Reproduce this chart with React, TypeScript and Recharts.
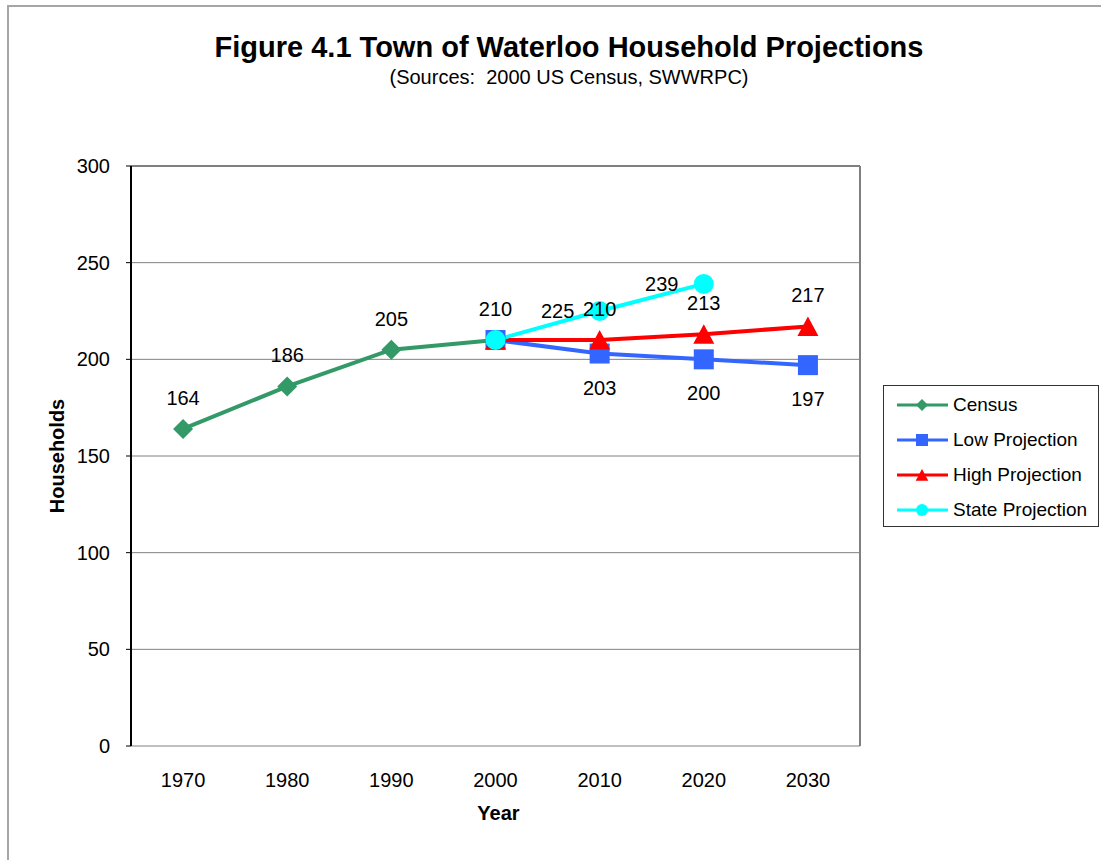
import React from "react";
import {
  LineChart,
  Line,
  XAxis,
  YAxis,
  CartesianGrid,
  ReferenceLine,
  LabelList,
} from "recharts";

const years = [1970, 1980, 1990, 2000, 2010, 2020, 2030];
const census = [164, 186, 205, 210, null, null, null];
const lowProjection = [null, null, null, 210, 203, 200, 197];
const highProjection = [null, null, null, 210, 210, 213, 217];
const stateProjection = [null, null, null, 210, 225, 239, null];

// boundaries between the year categories, where the tick marks sit
const yearBounds = [1965, 1975, 1985, 1995, 2005, 2015, 2025, 2035];
const householdTicks = [0, 50, 100, 150, 200, 250, 300];

const data = years.map((year, i) => ({
  year,
  census: census[i],
  low: lowProjection[i],
  high: highProjection[i],
  state: stateProjection[i],
}));

const FONT = "'Liberation Sans', Arial, sans-serif";

type Shape = "diamond" | "square" | "triangle" | "circle";

const series: {
  key: string;
  name: string;
  color: string;
  shape: Shape;
  label: "top" | "bottom" | "left";
}[] = [
  { key: "census", name: "Census", color: "#339966", shape: "diamond", label: "top" },
  { key: "low", name: "Low Projection", color: "#3366FF", shape: "square", label: "bottom" },
  { key: "high", name: "High Projection", color: "#FF0000", shape: "triangle", label: "top" },
  { key: "state", name: "State Projection", color: "#00FFFF", shape: "circle", label: "left" },
];

function Marker({ cx, cy, shape, color, r }: { cx: number; cy: number; shape: Shape; color: string; r: number }) {
  if (cx == null || cy == null) return null;
  if (shape === "diamond")
    return <polygon points={`${cx},${cy - r} ${cx + r},${cy} ${cx},${cy + r} ${cx - r},${cy}`} fill={color} />;
  if (shape === "square") return <rect x={cx - r} y={cy - r} width={r * 2} height={r * 2} fill={color} />;
  if (shape === "triangle")
    return <polygon points={`${cx},${cy - r} ${cx + r * 1.05},${cy + r * 0.95} ${cx - r * 1.05},${cy + r * 0.95}`} fill={color} />;
  return <circle cx={cx} cy={cy} r={r} fill={color} />;
}

function makeLabel(pos: "top" | "bottom" | "left", isProjection: boolean) {
  return (props: any) => {
    const { x, y, value, index } = props;
    if (value == null) return null;
    // the 2000 value is only labelled once, on the census line
    if (isProjection && years[index] === 2000) return null;
    let tx = x;
    let ty = y;
    if (pos === "top") ty = y - 31;
    if (pos === "bottom") ty = y + 34;
    if (pos === "left") tx = x - 42;
    return (
      <text x={tx} y={ty} textAnchor="middle" dominantBaseline="central" fontSize={20} fontFamily={FONT} fill="#000">
        {value}
      </text>
    );
  };
}

function Legend() {
  return (
    <div
      style={{
        position: "absolute",
        left: 883,
        top: 385,
        width: 214,
        height: 140,
        border: "1px solid #333",
        background: "#fff",
        fontFamily: FONT,
        fontSize: 19,
      }}
    >
      {series.map((s, i) => (
        <div
          key={s.key}
          style={{ position: "absolute", left: 0, top: 4 + i * 35, height: 30, display: "flex", alignItems: "center", whiteSpace: "nowrap" }}
        >
          <svg width={54} height={30} style={{ marginLeft: 13 }}>
            <line x1={0} y1={15} x2={51} y2={15} stroke={s.color} strokeWidth={3} />
            <Marker cx={25} cy={15} shape={s.shape} color={s.color} r={6} />
          </svg>
          <span style={{ marginLeft: 2, color: "#000" }}>{s.name}</span>
        </div>
      ))}
    </div>
  );
}

export default function App() {
  return (
    <div style={{ position: "absolute", left: 0, top: 0, width: 1101, height: 860, background: "#fff", fontFamily: FONT }}>
      <div style={{ position: "absolute", left: 7, top: 5, width: 1094, height: 855, borderTop: "2px solid #a6a6a6", borderLeft: "2px solid #a6a6a6" }} />
      <div style={{ position: "absolute", left: 169, width: 800, top: 31, textAlign: "center", fontSize: 29, fontWeight: "bold", lineHeight: "32px" }}>
        Figure 4.1 Town of Waterloo Household Projections
      </div>
      <div style={{ position: "absolute", left: 169, width: 800, top: 65, textAlign: "center", fontSize: 20, lineHeight: "24px", whiteSpace: "pre" }}>
        {"(Sources:  2000 US Census, SWWRPC)"}
      </div>
      <div style={{ position: "absolute", left: 0, top: 0 }}>
        <LineChart width={1101} height={860} data={data} margin={{ top: 166, right: 241, bottom: 0, left: 0 }}>
          <CartesianGrid horizontal vertical={false} stroke="#808080" />
          <XAxis
            xAxisId="bounds"
            dataKey="year"
            type="number"
            domain={[1965, 2035]}
            ticks={yearBounds}
            tick={false}
            height={0}
            axisLine={{ stroke: "#000", strokeWidth: 2 }}
            tickLine={{ stroke: "#000" }}
            tickSize={6}
          />
          <XAxis
            xAxisId="years"
            dataKey="year"
            type="number"
            domain={[1965, 2035]}
            ticks={years}
            height={114}
            axisLine={false}
            tickLine={false}
            tickSize={6}
            tickMargin={21}
            tick={{ fill: "#000", fontSize: 20, fontFamily: FONT }}
            label={{
              content: ({ viewBox }: any) => (
                <text
                  x={viewBox.x + viewBox.width / 2 + 3}
                  y={viewBox.y + 67}
                  textAnchor="middle"
                  dominantBaseline="central"
                  fontSize={20}
                  fontWeight="bold"
                  fontFamily={FONT}
                  fill="#000"
                >
                  Year
                </text>
              ),
            }}
          />
          <YAxis
            domain={[0, 300]}
            ticks={householdTicks}
            width={131}
            axisLine={{ stroke: "#000", strokeWidth: 2 }}
            tickLine={{ stroke: "#000" }}
            tickSize={5}
            tickMargin={16}
            tick={{ fill: "#000", fontSize: 20, fontFamily: FONT }}
            label={{
              content: ({ viewBox }: any) => {
                const x = viewBox.x + 57;
                const y = viewBox.y + viewBox.height / 2;
                return (
                  <text
                    x={x}
                    y={y}
                    transform={`rotate(-90, ${x}, ${y})`}
                    textAnchor="middle"
                    dominantBaseline="central"
                    fontSize={20}
                    fontWeight="bold"
                    fontFamily={FONT}
                    fill="#000"
                  >
                    Households
                  </text>
                );
              },
            }}
          />
          <ReferenceLine xAxisId="years" y={300} stroke="#808080" strokeWidth={2} />
          <ReferenceLine xAxisId="years" x={2035} stroke="#808080" strokeWidth={2} />
          {series.map((s) => (
            <Line
              key={s.key}
              xAxisId="years"
              dataKey={s.key}
              name={s.name}
              type="linear"
              stroke={s.color}
              strokeWidth={4}
              isAnimationActive={false}
              dot={(p: any) => <Marker key={`${s.key}-${p.index}`} cx={p.cx} cy={p.cy} shape={s.shape} color={s.color} r={10} />}
              activeDot={false}
            >
              <LabelList dataKey={s.key} content={makeLabel(s.label, s.key !== "census")} />
            </Line>
          ))}
        </LineChart>
      </div>
      <Legend />
    </div>
  );
}
